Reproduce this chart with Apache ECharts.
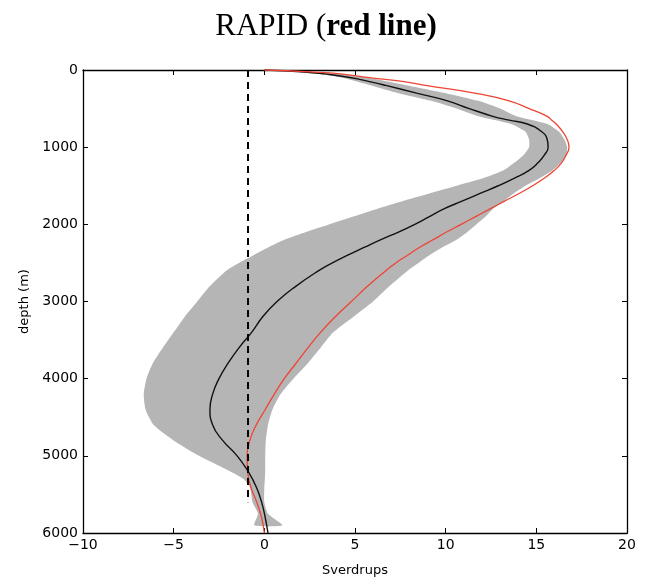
<!DOCTYPE html>
<html>
<head>
<meta charset="utf-8">
<script src="https://cdn.jsdelivr.net/npm/echarts@6/dist/echarts.min.js"></script>
<style>
html,body{margin:0;padding:0;background:#fff;}
#chart{width:652px;height:582px;}
</style>
</head>
<body>
<div id="chart"></div>
<script>
// depth levels (m) for the two profiles
var depths = [0,25,50,100,150,200,300,400,500,600,650,700,800,900,1000,1100,1200,1300,1400,1500,1600,1700,1800,1900,2000,2100,2200,2300,2400,2500,2600,2800,3000,3200,3400,3600,3800,4000,4200,4400,4600,4800,5000,5200,5400,5600,5800,6000];
// ensemble mean (black line), Sverdrups
var meanSv = [0,2.2,3.3,4.8,5.8,6.7,8.4,10.1,11.3,12.6,13.5,14.5,15.3,15.6,15.65,15.45,15.1,14.6,13.8,12.9,11.9,10.9,9.9,9.1,8.3,7.4,6.4,5.5,4.6,3.75,3.0,1.75,0.7,-0.1,-0.7,-1.4,-2.0,-2.5,-2.85,-3.0,-2.85,-2.3,-1.5,-0.9,-0.45,-0.15,0.05,0.2];
// RAPID (red line), Sverdrups
var rapidSv = [0,2.5,4.2,5.8,7.7,8.9,11.6,13.5,14.6,15.6,15.85,16.1,16.45,16.7,16.8,16.65,16.4,16.0,15.45,14.8,14.05,13.25,12.45,11.65,10.85,10.05,9.3,8.55,7.9,7.25,6.7,5.7,4.8,3.9,3.1,2.4,1.75,1.1,0.55,0.05,-0.45,-0.8,-0.95,-0.92,-0.75,-0.42,-0.15,0];
// spread band (grey)
var bandDepths = [0,25,50,100,200,300,400,500,600,700,800,900,1000,1100,1200,1300,1400,1500,1600,1700,1800,1900,2000,2100,2200,2300,2400,2500,2600,2800,3000,3200,3400,3600,3800,4000,4200,4400,4600,4800,5000,5200,5300,5400,5600,5750,5900];
var bandMin = [0,1.8,2.9,4.3,5.9,7.4,9.2,10.6,11.8,13.6,14.4,14.6,14.6,14.3,13.8,13.2,12.1,10.6,9.1,7.6,6.2,4.9,3.6,2.3,1.1,0.2,-0.6,-1.4,-2.1,-3.0,-3.7,-4.4,-5.0,-5.6,-6.15,-6.5,-6.65,-6.55,-6.1,-5.0,-3.6,-1.9,-1.15,-0.8,-0.65,-0.35,-0.55];
var bandMax = [0,2.7,4.1,5.7,7.9,10.0,11.8,13.0,13.9,15.6,16.25,16.55,16.7,16.65,16.35,15.9,15.2,14.4,13.75,13.2,12.6,12.2,11.7,11.2,10.6,9.8,9.1,8.5,7.9,6.9,6.0,4.9,3.8,3.1,2.4,1.6,0.9,0.45,0.2,0.08,0.05,0.05,0.03,0.0,0.0,0.2,1.0];
// dashed reference line
var refX = -0.9;
var refDepths = [0,5600];
// axis ticks
var xTicks = {min:-10, max:20, step:5};
var yTicks = {min:0, max:6000, step:1000};

function pairs(xs, ds){ return ds.map(function(d,i){ return [xs[i], d]; }); }

var chart = echarts.init(document.getElementById('chart'), null, {renderer:'canvas'});
var labelFont = {fontFamily:'DejaVu Sans', fontSize:14, color:'#000'};
var tickStyle = {show:true, inside:true, length:5, lineStyle:{color:'#000', width:1}};
var lineStyleAx = {show:true, onZero:false, lineStyle:{color:'#000', width:1.3}};

var option = {
  backgroundColor:'#fff',
  animation:false,
  title:{
    text:'{a|RAPID (}{b|red line)}',
    left:'center', top:6,
    textStyle:{
      fontWeight:'normal',
      rich:{
        a:{fontFamily:'Liberation Serif', fontSize:31, fontWeight:'normal', color:'#000'},
        b:{fontFamily:'Liberation Serif', fontSize:31, fontWeight:'bold', color:'#000'}
      }
    }
  },
  grid:{left:83, top:70, right:25, bottom:47, containLabel:false},
  xAxis:[
    {type:'value', position:'bottom', min:xTicks.min, max:xTicks.max, interval:xTicks.step,
     name:'Sverdrups', nameLocation:'middle', nameGap:31,
     nameTextStyle:{fontFamily:'DejaVu Sans', fontSize:13, color:'#000'},
     axisLine:lineStyleAx, axisTick:tickStyle, splitLine:{show:false},
     axisLabel:Object.assign({margin:5, formatter:function(v){return v<0?'\u2212'+(-v):String(v);}}, labelFont)},
    {type:'value', position:'top', min:xTicks.min, max:xTicks.max, interval:xTicks.step,
     axisLine:lineStyleAx, axisTick:tickStyle, splitLine:{show:false}, axisLabel:{show:false}}
  ],
  yAxis:[
    {type:'value', position:'left', inverse:true, min:yTicks.min, max:yTicks.max, interval:yTicks.step,
     name:'depth (m)', nameLocation:'middle', nameGap:48, nameRotate:90,
     nameTextStyle:{fontFamily:'DejaVu Sans', fontSize:13, color:'#000'},
     axisLine:lineStyleAx, axisTick:tickStyle, splitLine:{show:false},
     axisLabel:Object.assign({margin:5, formatter:function(v){return String(v);}}, labelFont)},
    {type:'value', position:'right', inverse:true, min:yTicks.min, max:yTicks.max, interval:yTicks.step,
     axisLine:lineStyleAx, axisTick:tickStyle, splitLine:{show:false}, axisLabel:{show:false}}
  ],
  series:[
    {
      type:'custom', name:'spread', coordinateSystem:'cartesian2d', xAxisIndex:0, yAxisIndex:0,
      clip:true, silent:true, z:1,
      data:[[0,0]],
      renderItem:function(params, api){
        var pts = [];
        for (var i=0;i<bandDepths.length;i++) pts.push(api.coord([bandMin[i], bandDepths[i]]));
        for (var j=bandDepths.length-1;j>=0;j--) pts.push(api.coord([bandMax[j], bandDepths[j]]));
        return {type:'polygon', shape:{points:pts, smooth:0.2}, style:{fill:'#b5b5b5', stroke:null}};
      }
    },
    {
      type:'line', name:'ensemble mean', data:pairs(meanSv, depths), showSymbol:false, symbol:'none',
      smooth:0.5, lineStyle:{color:'#111', width:1.4}, z:3
    },
    {
      type:'line', name:'RAPID', data:pairs(rapidSv, depths), showSymbol:false, symbol:'none',
      smooth:0.5, lineStyle:{color:'#ee4433', width:1.3}, z:4
    },
    {
      type:'line', name:'reference', data:refDepths.map(function(d){return [refX, d];}), showSymbol:false, symbol:'none',
      lineStyle:{color:'#000', width:2, type:[7,5]}, z:5
    }
  ]
};
chart.setOption(option);
</script>
</body>
</html>
